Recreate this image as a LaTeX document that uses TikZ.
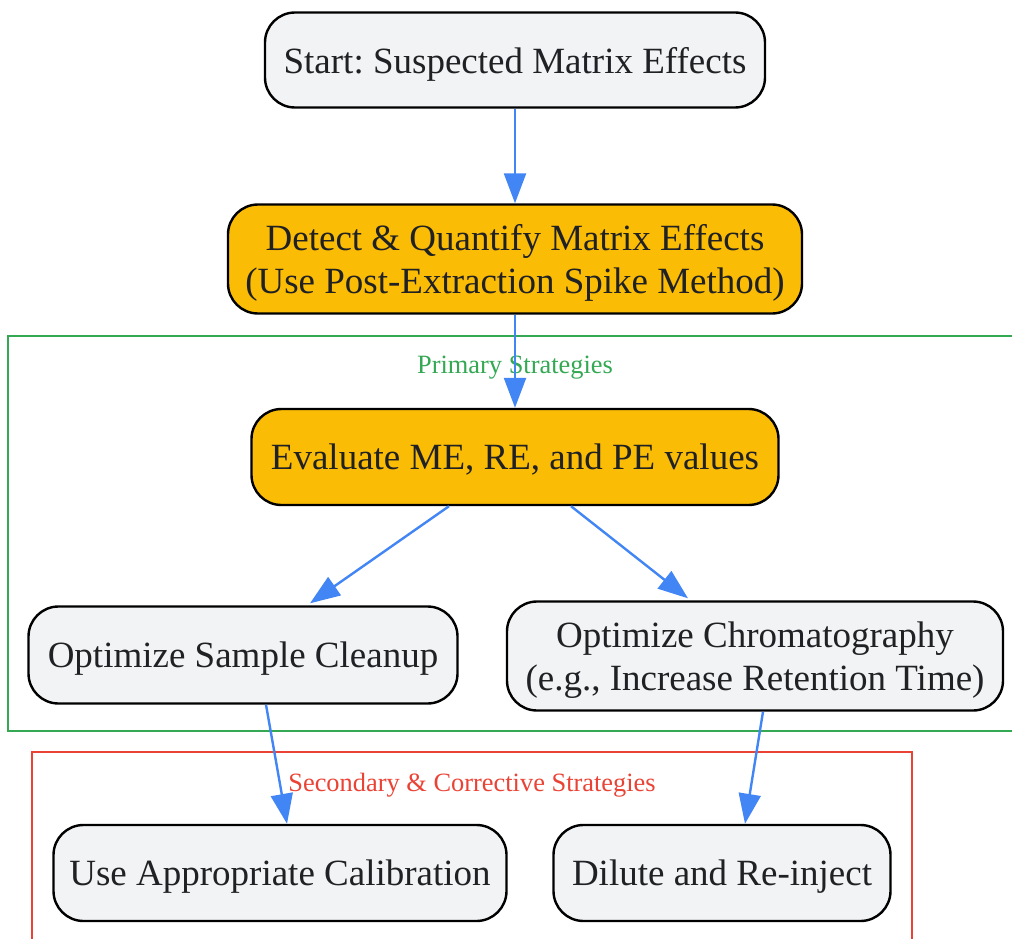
\documentclass[tikz,border=0pt]{standalone}
\usepackage{fontspec}
\setmainfont{Liberation Serif}
\frenchspacing
\usetikzlibrary{arrows.meta}
\definecolor{boxgray}{HTML}{F1F3F4}
\definecolor{boxgold}{HTML}{FBBC05}
\definecolor{inkdark}{HTML}{202124}
\definecolor{flowblue}{HTML}{4285F4}
\definecolor{primgreen}{HTML}{34A853}
\definecolor{secred}{HTML}{EA4335}
\tikzset{
	stepbox/.style={draw=black, line width=2.4pt, rounded corners=30pt, fill=boxgray,
		text=inkdark, align=center, inner sep=0pt, text depth=0pt,
		font=\fontsize{37}{43}\selectfont},
	keybox/.style={stepbox, fill=boxgold},
	flow/.style={draw=flowblue, line width=2.4pt, -{Triangle[length=30pt, width=22pt]}},
	cluster/.style={line width=2.4pt},
	clusterlabel/.style={font=\fontsize{26.4}{30}\selectfont, text depth=0pt}
}
\begin{document}
\begin{tikzpicture}[x=1pt, y=-1pt]
		\useasboundingbox (0,0) rectangle (1012,939);
		% primary strategies
		\draw[cluster, draw=primgreen] (8,336) rectangle (1014,731);
		\node[clusterlabel, text=primgreen] (primlabel) at (515,365) {Primary Strategies};
		% secondary strategies
		\draw[cluster, draw=secred] (32,752) rectangle (912,942);
		\node[clusterlabel, text=secred] (seclabel) at (472,782) {Secondary \& Corrective Strategies};

		% steps
		\node[stepbox, minimum width=500pt, minimum height=95pt] (start) at (515,60) {Start: Suspected Matrix Effects};
		\node[keybox, minimum width=574pt, minimum height=109pt] (detect) at (515,259) {Detect \& Quantify Matrix Effects\\(Use Post-Extraction Spike Method)};
		\node[keybox, minimum width=527pt, minimum height=96pt] (evaluate) at (515,457) {Evaluate ME, RE, and PE values};
		\node[stepbox, minimum width=429pt, minimum height=97pt] (cleanup) at (243,655) {Optimize Sample Cleanup};
		\node[stepbox, minimum width=496pt, minimum height=109pt] (chrom) at (755,656) {Optimize Chromatography\\(e.g., Increase Retention Time)};
		\node[stepbox, minimum width=453pt, minimum height=96pt] (calib) at (280,873) {Use Appropriate Calibration};
		\node[stepbox, minimum width=337pt, minimum height=96pt] (dilute) at (722,873) {Dilute and Re-inject};

		% connectors
		\draw[flow] (start) -- (detect);
		\draw[flow] (detect) -- (evaluate);
		\draw[flow] ([xshift=-66pt]evaluate.south) -- ([xshift=67pt, yshift=2pt]cleanup.north);
		\draw[flow] ([xshift=56pt]evaluate.south) -- ([xshift=-67pt, yshift=2pt]chrom.north);
		\draw[flow] ([xshift=23pt]cleanup.south) -- ([xshift=7pt]calib.north);
		\draw[flow] ([xshift=8pt]chrom.south) -- ([xshift=23pt]dilute.north);
	\end{tikzpicture}
\end{document}
